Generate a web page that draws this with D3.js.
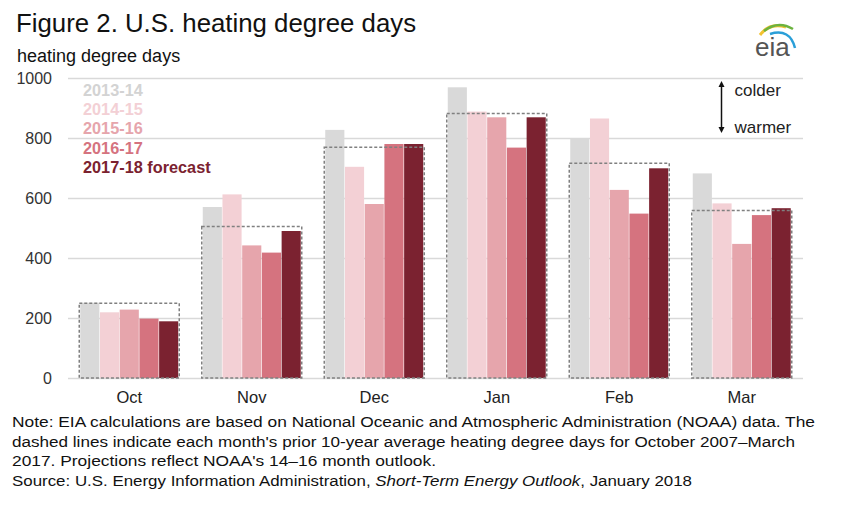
<!DOCTYPE html>
<html><head><meta charset="utf-8">
<script src="https://cdn.jsdelivr.net/npm/d3@7"></script>
<style>
body{margin:0;background:#fff;}
svg text{font-family:"Liberation Sans",Arial,sans-serif;}
</style></head>
<body><svg id="c" width="841" height="509"></svg>
<script>
const months = ["Oct","Nov","Dec","Jan","Feb","Mar"];
const seriesNames = ["2013-14","2014-15","2015-16","2016-17","2017-18 forecast"];
const seriesColors = ["#d9d9d9","#f3d0d5","#e6a5ac","#d5737f","#7b2230"];
const v2013 = [251, 570, 827, 969, 799, 682];
const v2014 = [219, 612, 704, 888, 865, 582];
const v2015 = [228, 442, 580, 869, 627, 447];
const v2016 = [198, 418, 780, 768, 548, 543];
const v2017 = [189, 490, 780, 869, 699, 566];
const tenYearAvg = [249, 505, 769, 882, 716, 558];
const yTicks = [0, 200, 400, 600, 800, 1000];
const seriesValues = [v2013, v2014, v2015, v2016, v2017];
const noteLines = [
  "Note: EIA calculations are based on National Oceanic and Atmospheric Administration (NOAA) data. The",
  "dashed lines indicate each month's prior 10-year average heating degree days for October 2007\u2013March",
  "2017. Projections reflect NOAA's 14\u201316 month outlook."
];

const svg = d3.select("#c");
const L = 68, R = 803, T = 78, B = 378;
const y = d3.scaleLinear().domain([0,1000]).range([B,T]);
const x0 = d3.scaleBand().domain(months).range([L,R]).paddingInner(0.2).paddingOuter(0.1);
const x1 = d3.scaleBand().domain(seriesNames).range([0,x0.bandwidth()]).paddingInner(0.03);

// title
svg.append("text").attr("x",16).attr("y",32).attr("font-size",25.8).attr("fill","#111")
  .text("Figure 2. U.S. heating degree days");
svg.append("text").attr("x",17).attr("y",62).attr("font-size",18).attr("fill","#111")
  .text("heating degree days");

// grid + y axis
const ya = svg.append("g").attr("transform",`translate(${L},0)`)
  .call(d3.axisLeft(y).tickValues(yTicks).tickFormat(d3.format("d")).tickSize(-(R-L)).tickPadding(16));
ya.select(".domain").remove();
ya.selectAll(".tick line").attr("stroke","#d9d9d9").attr("stroke-width",1.5);
ya.selectAll(".tick text").attr("font-size",16).attr("fill","#333")
  .attr("font-family","Liberation Sans, Arial, sans-serif");

// bars
const groups = svg.append("g").selectAll("g").data(months).join("g")
  .attr("transform",d=>`translate(${x0(d)},0)`);
groups.selectAll("rect").data((m,i)=>seriesNames.map((s,j)=>({s,j,v:seriesValues[j][i]})))
  .join("rect")
  .attr("x",d=>x1(d.s)).attr("width",x1.bandwidth())
  .attr("y",d=>y(d.v)).attr("height",d=>y(0)-y(d.v))
  .attr("fill",d=>seriesColors[d.j]);

// dashed average boxes
svg.append("g").selectAll("rect").data(months).join("rect")
  .attr("x",d=>x0(d)-1).attr("width",x0.bandwidth()+2)
  .attr("y",(d,i)=>y(tenYearAvg[i])).attr("height",(d,i)=>y(0)-y(tenYearAvg[i]))
  .attr("fill","none").attr("stroke","#808080").attr("stroke-width",1.5)
  .attr("stroke-dasharray","3,2");

// x axis
const xa = svg.append("g").attr("transform",`translate(0,${B})`)
  .call(d3.axisBottom(x0).tickSize(0).tickPadding(13));
xa.select(".domain").remove();
xa.selectAll(".tick text").attr("font-size",16.5).attr("fill","#222")
  .attr("font-family","Liberation Sans, Arial, sans-serif");

// legend
svg.append("g").selectAll("text").data(seriesNames).join("text")
  .attr("x",83).attr("y",(d,i)=>96+i*19.2)
  .attr("font-size",16.3).attr("font-weight","bold")
  .attr("fill",(d,i)=>seriesColors[i]==="#d9d9d9"?"#d3d3d3":seriesColors[i])
  .text(d=>d);

// colder / warmer arrow
const defs = svg.append("defs");
defs.append("marker").attr("id","ah").attr("viewBox","0 0 10 10").attr("refX",5).attr("refY",5)
  .attr("markerWidth",4).attr("markerHeight",5).attr("orient","auto-start-reverse")
  .append("path").attr("d","M0,0 L10,5 L0,10 z").attr("fill","#111");
svg.append("line").attr("x1",721.5).attr("x2",721.5).attr("y1",84).attr("y2",130)
  .attr("stroke","#111").attr("stroke-width",1.5)
  .attr("marker-start","url(#ah)").attr("marker-end","url(#ah)");
svg.append("text").attr("x",734.5).attr("y",96).attr("font-size",17).attr("fill","#222").text("colder");
svg.append("text").attr("x",734.5).attr("y",133).attr("font-size",17).attr("fill","#222").text("warmer");

// eia logo
const lg = svg.append("g");
lg.append("path").attr("d","M760,35 Q770,22 786,27").attr("fill","none").attr("stroke","#f2c230").attr("stroke-width",3);
lg.append("path").attr("d","M764,31 Q778,20 793,29").attr("fill","none").attr("stroke","#6cb33f").attr("stroke-width",2.5);
lg.append("path").attr("d","M770,34 Q790,28 795,48").attr("fill","none").attr("stroke","#2a9fd8").attr("stroke-width",2.5);
lg.append("text").attr("x",755).attr("y",56).attr("font-size",26)
  .attr("font-family","Liberation Serif, DejaVu Serif, serif").attr("fill","#555").text("eia");

// notes
const notes = svg.append("g").attr("font-size",15.5).attr("fill","#111");
const noteWidths = [803, 783, 424];
noteLines.forEach((t,i)=>{
  notes.append("text").attr("x",12).attr("y",427+i*19.5)
    .attr("textLength",noteWidths[i]).attr("lengthAdjust","spacingAndGlyphs").text(t);
});
const src = notes.append("text").attr("x",12).attr("y",427+3*19.5)
  .attr("textLength",680).attr("lengthAdjust","spacingAndGlyphs");
src.append("tspan").text("Source: U.S. Energy Information Administration, ");
src.append("tspan").attr("font-style","italic").text("Short-Term Energy Outlook");
src.append("tspan").text(", January 2018");
</script></body></html>
